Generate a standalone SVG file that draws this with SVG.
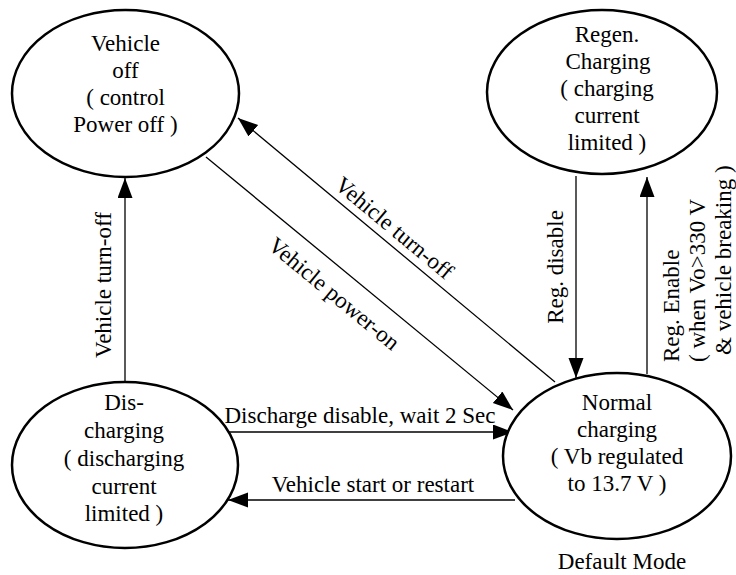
<svg xmlns="http://www.w3.org/2000/svg" width="736" height="575" viewBox="0 0 736 575">
<style>
  .node { fill: #ffffff; stroke: #000000; stroke-width: 2.5; }
  .t { font-family: "Liberation Serif", "Times New Roman", serif; font-size: 23px; fill: #000000; }
  .c { text-anchor: middle; }
  .edge { stroke: #000000; stroke-width: 1.3; fill: none; }
</style>
<defs>
  <marker id="arrow" markerUnits="userSpaceOnUse" markerWidth="21" markerHeight="16" refX="20" refY="7.5" orient="auto">
    <path d="M0,0 L20,7.5 L0,15 z" fill="#000000"/>
  </marker>
</defs>
<rect width="736" height="575" fill="#ffffff"/>

<g id="connectors">
  <line class="edge" x1="125" y1="382" x2="125" y2="178" marker-end="url(#arrow)"/>
  <line class="edge" x1="555" y1="382" x2="238" y2="118" marker-end="url(#arrow)"/>
  <line class="edge" x1="206" y1="157" x2="513" y2="410" marker-end="url(#arrow)"/>
  <line class="edge" x1="576" y1="176" x2="576" y2="378" marker-end="url(#arrow)"/>
  <line class="edge" x1="647" y1="374" x2="647" y2="177" marker-end="url(#arrow)"/>
  <line class="edge" x1="228" y1="432" x2="513" y2="432" marker-end="url(#arrow)"/>
  <line class="edge" x1="515" y1="500" x2="228" y2="500" marker-end="url(#arrow)"/>

  <text class="t c" transform="translate(111,285) rotate(-90)">Vehicle turn-off</text>
  <text class="t c" transform="translate(389.4,233.8) rotate(39.8)">Vehicle turn-off</text>
  <text class="t c" transform="translate(329.2,299.5) rotate(39.6)">Vehicle power-on</text>
  <text class="t c" transform="translate(563,267) rotate(-90)">Reg. disable</text>
  <text class="t" transform="translate(679,362) rotate(-90)">Reg. Enable</text>
  <text class="t" transform="translate(705,362) rotate(-90)">( when Vo&gt;330 V</text>
  <text class="t" transform="translate(731,355) rotate(-90)">&amp; vehicle breaking )</text>
  <text class="t c" x="360" y="423">Discharge disable, wait 2 Sec</text>
  <text class="t c" x="373" y="492">Vehicle start or restart</text>
</g>

<g id="vehicle-off">
  <ellipse class="node" cx="125.5" cy="93.5" rx="113.5" ry="83.5"/>
  <text class="t c" x="125.5" y="51">Vehicle</text>
  <text class="t c" x="125.5" y="78">off</text>
  <text class="t c" x="125.5" y="105">( control</text>
  <text class="t c" x="125.5" y="132">Power off )</text>
</g>

<g id="regen-charging">
  <ellipse class="node" cx="602" cy="92" rx="115" ry="82"/>
  <text class="t c" x="607" y="42">Regen.</text>
  <text class="t c" x="608" y="69">Charging</text>
  <text class="t c" x="607" y="96">( charging</text>
  <text class="t c" x="607" y="123">current</text>
  <text class="t c" x="607" y="150">limited )</text>
</g>

<g id="discharging">
  <ellipse class="node" cx="125" cy="465" rx="113" ry="83"/>
  <text class="t c" x="124" y="410">Dis-</text>
  <text class="t c" x="124" y="438">charging</text>
  <text class="t c" x="124" y="466">( discharging</text>
  <text class="t c" x="124" y="494">current</text>
  <text class="t c" x="124" y="521">limited )</text>
</g>

<g id="normal-charging">
  <ellipse class="node" cx="617" cy="456" rx="114" ry="83"/>
  <text class="t c" x="617" y="410">Normal</text>
  <text class="t c" x="617" y="437">charging</text>
  <text class="t c" x="617" y="464">( Vb regulated</text>
  <text class="t c" x="617" y="491">to 13.7 V )</text>
  <text class="t c" x="622" y="569">Default Mode</text>
</g>
</svg>
